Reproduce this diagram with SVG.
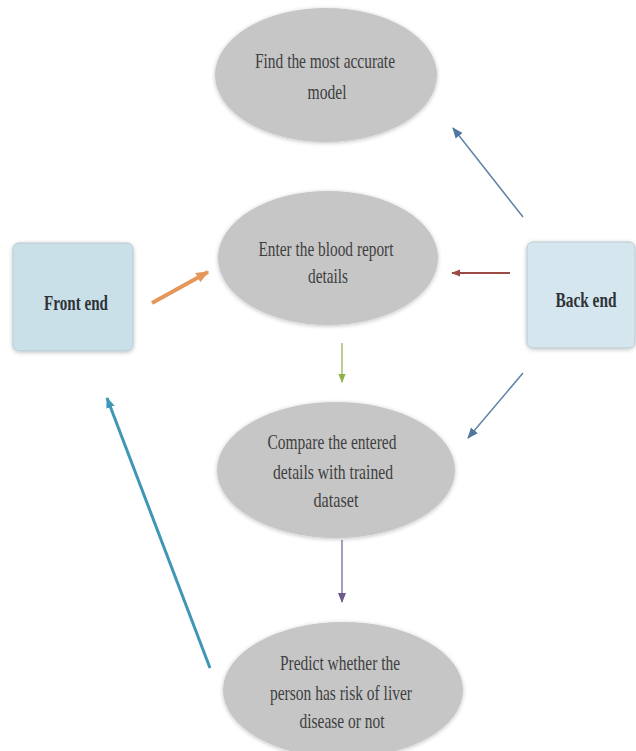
<svg xmlns="http://www.w3.org/2000/svg" width="636" height="751" viewBox="0 0 636 751">
<style>
.ell{fill:#c6c6c6;filter:url(#sh)}
.box{stroke:#b8c9d2;stroke-width:1;filter:url(#sh)}
.t{font-family:"Liberation Serif","Times New Roman",serif;font-size:22px;fill:#3f3f3f;text-anchor:middle}
.b{font-family:"Liberation Serif","Times New Roman",serif;font-size:21px;font-weight:bold;fill:#2f3338;text-anchor:middle}
.c{fill:none}
</style>
<defs>
<filter id="sh" x="-10%" y="-10%" width="120%" height="120%">
<feGaussianBlur in="SourceAlpha" stdDeviation="2"/>
<feOffset dx="0" dy="1" result="o"/>
<feComponentTransfer><feFuncA type="linear" slope="0.25"/></feComponentTransfer>
<feMerge><feMergeNode/><feMergeNode in="SourceGraphic"/></feMerge>
</filter>
<marker id="m-blue" viewBox="0 0 10 10" refX="9" refY="5" markerWidth="11" markerHeight="11" markerUnits="userSpaceOnUse" orient="auto"><path d="M0,1 L10,5 L0,9 z" fill="#4f77a0"/></marker>
<marker id="m-teal" viewBox="0 0 10 10" refX="9" refY="5" markerWidth="11" markerHeight="11" markerUnits="userSpaceOnUse" orient="auto"><path d="M0,1 L10,5 L0,9 z" fill="#3f97b5"/></marker>
<marker id="m-orange" viewBox="0 0 10 10" refX="9" refY="5" markerWidth="13" markerHeight="13" markerUnits="userSpaceOnUse" orient="auto"><path d="M0,1 L10,5 L0,9 z" fill="#e5975a"/></marker>
<marker id="m-red" viewBox="0 0 10 10" refX="9" refY="5" markerWidth="9" markerHeight="9" markerUnits="userSpaceOnUse" orient="auto"><path d="M0,1 L10,5 L0,9 z" fill="#9b4b43"/></marker>
<marker id="m-green" viewBox="0 0 10 10" refX="9" refY="5" markerWidth="9" markerHeight="9" markerUnits="userSpaceOnUse" orient="auto"><path d="M0,1 L10,5 L0,9 z" fill="#8db04a"/></marker>
<marker id="m-purple" viewBox="0 0 10 10" refX="9" refY="5" markerWidth="10" markerHeight="10" markerUnits="userSpaceOnUse" orient="auto"><path d="M0,1 L10,5 L0,9 z" fill="#6e5a8e"/></marker>
</defs>
<rect width="636" height="751" fill="#ffffff"/>

<g id="connectors">
<line class="c" x1="152" y1="303" x2="208" y2="272" stroke="#e5975a" stroke-width="4" marker-end="url(#m-orange)"/>
<line class="c" x1="510" y1="273" x2="452" y2="273" stroke="#9b4b43" stroke-width="1.8" marker-end="url(#m-red)"/>
<line class="c" x1="523" y1="217" x2="453" y2="128" stroke="#5f82a6" stroke-width="1.5" marker-end="url(#m-blue)"/>
<line class="c" x1="523" y1="373" x2="468" y2="438" stroke="#5f82a6" stroke-width="1.5" marker-end="url(#m-blue)"/>
<line class="c" x1="342" y1="343" x2="342" y2="382" stroke="#8db04a" stroke-width="1.2" marker-end="url(#m-green)"/>
<line class="c" x1="342" y1="540" x2="342" y2="602" stroke="#6e5a8e" stroke-width="1.2" marker-end="url(#m-purple)"/>
<line class="c" x1="210" y1="668" x2="107" y2="398" stroke="#3f97b5" stroke-width="3" marker-end="url(#m-teal)"/>
</g>

<g id="node-find-model">
<ellipse class="ell" cx="326" cy="75" rx="111" ry="67"/>
<text class="t" x="325" y="68" textLength="140" lengthAdjust="spacingAndGlyphs">Find the most accurate</text>
<text class="t" x="327" y="99" textLength="39" lengthAdjust="spacingAndGlyphs">model</text>
</g>

<g id="node-enter-details">
<ellipse class="ell" cx="328" cy="258" rx="110" ry="67"/>
<text class="t" x="326" y="256" textLength="135" lengthAdjust="spacingAndGlyphs">Enter the blood report</text>
<text class="t" x="328" y="283" textLength="40" lengthAdjust="spacingAndGlyphs">details</text>
</g>

<g id="node-compare">
<ellipse class="ell" cx="336" cy="470" rx="119" ry="68"/>
<text class="t" x="332" y="449" textLength="129" lengthAdjust="spacingAndGlyphs">Compare the entered</text>
<text class="t" x="333" y="479" textLength="120" lengthAdjust="spacingAndGlyphs">details with trained</text>
<text class="t" x="336" y="507" textLength="45" lengthAdjust="spacingAndGlyphs">dataset</text>
</g>

<g id="node-predict">
<ellipse class="ell" cx="343" cy="690" rx="120" ry="68"/>
<text class="t" x="340" y="670" textLength="120" lengthAdjust="spacingAndGlyphs">Predict whether the</text>
<text class="t" x="341" y="700" textLength="142" lengthAdjust="spacingAndGlyphs">person has risk of liver</text>
<text class="t" x="342" y="728" textLength="85" lengthAdjust="spacingAndGlyphs">disease or not</text>
</g>

<g id="node-front-end">
<rect class="box" x="13" y="243" width="120" height="108" rx="6" fill="#c9e0e8"/>
<text class="b" x="76" y="310" textLength="64" lengthAdjust="spacingAndGlyphs">Front end</text>
</g>

<g id="node-back-end">
<rect class="box" x="527" y="242" width="108" height="106" rx="6" fill="#d6e6ee"/>
<text class="b" x="586" y="307" textLength="61" lengthAdjust="spacingAndGlyphs">Back end</text>
</g>
</svg>
